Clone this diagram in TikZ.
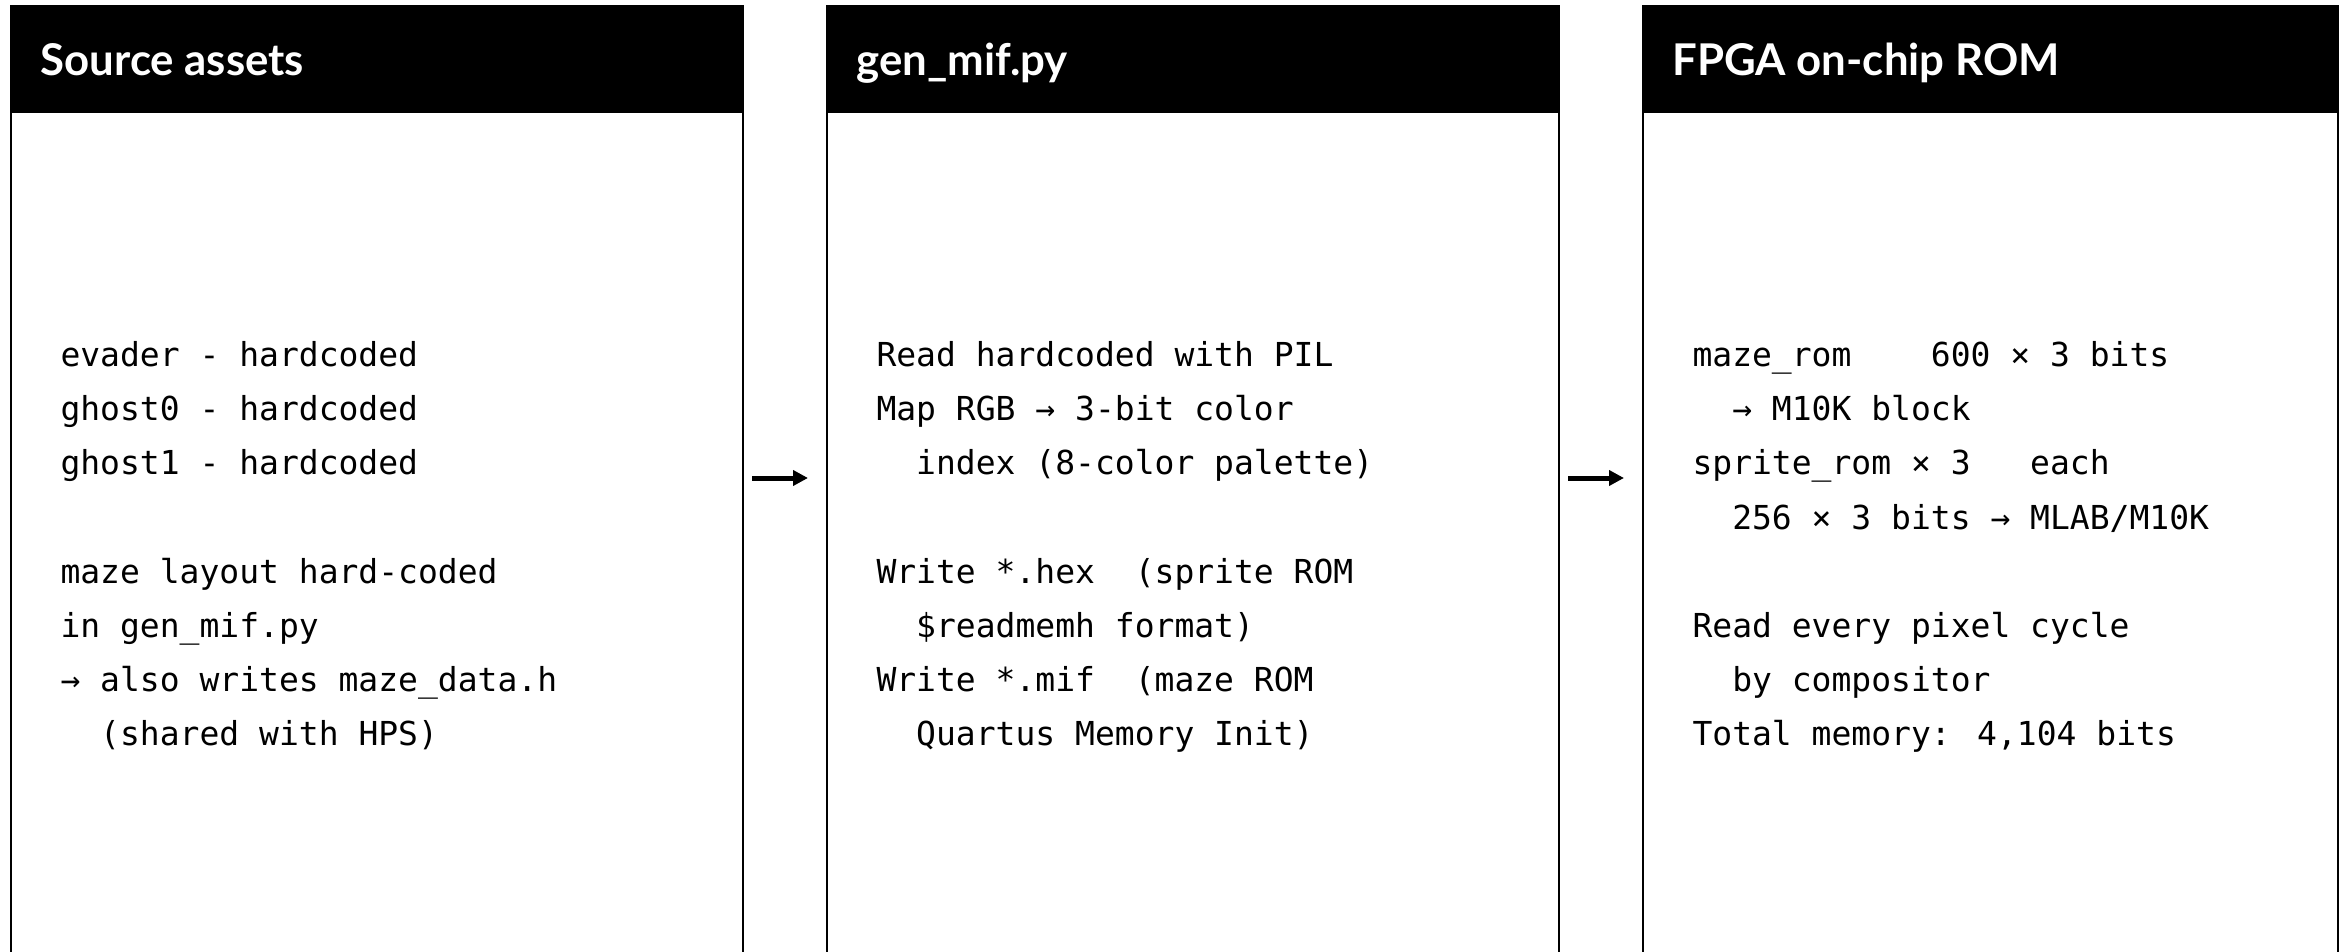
\documentclass[tikz,border=0pt]{standalone}
\usepackage{fontspec}
\usetikzlibrary{arrows.meta,positioning}
\newfontfamily\headfont{Lato}
\newfontfamily\codefont{DejaVu Sans Mono}
\newlength\unitpx
\setlength\unitpx{0.4pt}
\begin{document}
\begin{tikzpicture}
[x=0.4pt, y=-0.4pt,
 panel/.style ={draw=black, line width=0.8pt, anchor=north west, inner sep=0pt, minimum height=950\unitpx},
 headbar/.style ={fill=black, anchor=north west, inner sep=0pt, minimum height=108\unitpx},
 title/.style ={text=white, anchor=base west, inner sep=0pt, font=\headfont\bfseries\fontsize{17.5}{20}\selectfont},
 code/.style ={anchor=base west, inner sep=0pt, align=left, font=\codefont\fontsize{13.2}{21.6}\selectfont},
 flow/.style ={-{Triangle[length=6pt,width=6pt]}, line width=2pt, shorten <=8\unitpx, shorten >=18\unitpx}]
\clip (0,0) rectangle (2347,952);
\node[panel, minimum width=732\unitpx] (src) at (10,5) {};
\node[panel, minimum width=732\unitpx] (gen) at (826,5) {};
\node[panel, minimum width=695\unitpx] (rom) at (1642,5) {};
\node[headbar, minimum width=732\unitpx] (srchead) at (src.north west) {};
\node[headbar, minimum width=732\unitpx] (genhead) at (gen.north west) {};
\node[headbar, minimum width=695\unitpx] (romhead) at (rom.north west) {};
\node[title] (srctitle) at ([shift={(30,16)}]srchead.west) {Source assets};
\node[title] (gentitle) at ([shift={(30,16)}]genhead.west) {gen\_mif.py};
\node[title] (romtitle) at ([shift={(30,16)}]romhead.west) {FPGA on-chip ROM};
% base = last line
\node[code] (srctext) at (60,745) {evader - hardcoded\\ghost0 - hardcoded\\ghost1 - hardcoded\\[21.6pt]
  maze layout hard-coded\\in gen\_mif.py\\→ also writes maze\_data.h\\~~(shared with HPS)};
\node[code] (gentext) at (876,745) {Read hardcoded with PIL\\Map RGB → 3-bit color\\~~index (8-color palette)\\[21.6pt]
  Write *.hex~~(sprite ROM\\~~\$readmemh format)\\Write *.mif~~(maze ROM\\~~Quartus Memory Init)};
\node[code] (romtext) at (1692,745) {maze\_rom~~~~600 × 3 bits\\~~→ M10K block\\sprite\_rom × 3~~~each\\~~256 × 3 bits → MLAB/M10K\\[21.6pt]
  Read every pixel cycle\\~~by compositor\\Total memory: 4,104 bits};
\draw[flow] ([yshift=3\unitpx]src.east) -- ([yshift=3\unitpx]gen.west);
\draw[flow] ([yshift=3\unitpx]gen.east) -- ([yshift=3\unitpx]rom.west);
\end{tikzpicture}
\end{document}
